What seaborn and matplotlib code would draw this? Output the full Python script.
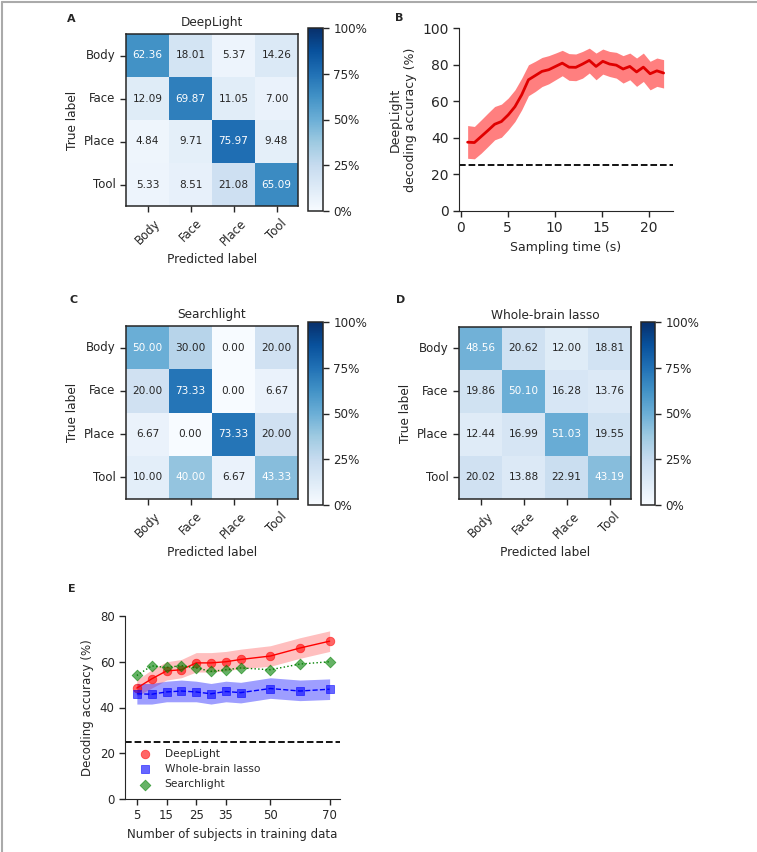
"""
Decoding performance figure: confusion matrices (DeepLight / Searchlight / Whole-brain lasso),
DeepLight accuracy over sampling time, and accuracy vs number of training subjects.
"""
import numpy as np
import pandas as pd
import seaborn as sns
from matplotlib import pyplot as plt
from matplotlib.lines import Line2D
from matplotlib.ticker import PercentFormatter

# ---- data ----
classes = ["Body", "Face", "Place", "Tool"]

deeplight_cm = [[62.36, 18.01, 5.37, 14.26],
                [12.09, 69.87, 11.05, 7.00],
                [4.84, 9.71, 75.97, 9.48],
                [5.33, 8.51, 21.08, 65.09]]
searchlight_cm = [[50.00, 30.00, 0.00, 20.00],
                  [20.00, 73.33, 0.00, 6.67],
                  [6.67, 0.00, 73.33, 20.00],
                  [10.00, 40.00, 6.67, 43.33]]
lasso_cm = [[48.56, 20.62, 12.00, 18.81],
            [19.86, 50.10, 16.28, 13.76],
            [12.44, 16.99, 51.03, 19.55],
            [20.02, 13.88, 22.91, 43.19]]

# panel B: accuracy over sampling time (TR = 0.72 s)
sampling_time = [0.72, 1.44, 2.16, 2.88, 3.60, 4.32, 5.04, 5.76, 6.48, 7.20,
                 7.92, 8.64, 9.36, 10.08, 10.80, 11.52, 12.24, 12.96, 13.68, 14.40,
                 15.12, 15.84, 16.56, 17.28, 18.00, 18.72, 19.44, 20.16, 20.88, 21.60]
time_acc = [37.6, 37.4, 40.7, 44.0, 47.4, 48.9, 52.5, 57.0, 63.5, 71.7,
            74.0, 76.3, 77.2, 79.0, 80.8, 78.6, 78.5, 80.3, 82.3, 79.0,
            81.8, 80.3, 79.7, 77.6, 79.0, 76.0, 78.6, 75.0, 76.6, 75.4]
time_lo = [28.8, 28.5, 31.6, 35.2, 38.9, 40.3, 44.3, 48.9, 55.3, 63.0,
           65.3, 68.0, 69.5, 71.7, 73.9, 71.4, 71.2, 72.6, 75.4, 71.7,
           74.8, 73.5, 72.6, 69.9, 71.7, 68.1, 70.8, 66.2, 68.1, 67.2]
time_hi = [46.7, 46.2, 49.8, 53.5, 57.1, 58.4, 61.7, 66.2, 72.6, 79.9,
           81.8, 83.9, 84.9, 86.3, 87.8, 86.0, 85.8, 87.2, 89.0, 86.3,
           88.5, 87.2, 86.7, 84.9, 86.3, 83.6, 86.3, 81.8, 83.6, 82.7]

# panel E: accuracy vs number of training subjects
n_subjects = [5, 10, 15, 20, 25, 30, 35, 40, 50, 60, 70]
deeplight_acc = [48.5, 52.5, 56.0, 56.5, 59.5, 59.5, 60.0, 61.0, 62.5, 66.0, 69.0]
deeplight_lo = [45.0, 48.5, 52.0, 53.0, 55.5, 55.5, 56.0, 57.0, 58.0, 61.5, 64.5]
deeplight_hi = [52.0, 56.5, 60.0, 61.0, 64.0, 64.0, 64.5, 65.5, 67.0, 70.5, 73.5]
lasso_acc = [46.0, 45.8, 46.8, 47.2, 46.8, 46.0, 47.0, 46.5, 48.3, 47.2, 48.0]
lasso_lo = [41.5, 41.5, 42.5, 42.5, 42.5, 41.5, 42.5, 42.0, 44.0, 43.0, 43.5]
lasso_hi = [50.5, 50.5, 51.5, 52.0, 51.5, 50.5, 51.5, 51.0, 53.0, 52.0, 52.5]
searchlight_acc = [54.0, 58.2, 57.5, 58.3, 57.3, 55.8, 56.5, 57.3, 56.5, 59.0, 60.0]
chance = 25

# ---- style ----
sns.set_style("ticks")
plt.rcParams['font.family'] = ['DejaVu Sans']
plt.rcParams['xtick.labelsize'] = 8.5
plt.rcParams['ytick.labelsize'] = 8.5
plt.rcParams['axes.labelsize'] = 8.7
plt.rcParams['axes.titlesize'] = 8.7

W, H = 757, 852
fig = plt.figure(figsize=(W / 100, H / 100), dpi=100)


def rect(x0, y0, x1, y1):
    # pixel box -> figure fraction
    return [x0 / W, 1 - y1 / H, (x1 - x0) / W, (y1 - y0) / H]


def draw_cm(ax, cax, cm, title):
    df = pd.DataFrame(cm, index=classes, columns=classes)
    sns.heatmap(df, ax=ax, cbar_ax=cax, cmap="Blues", vmin=0, vmax=100,
                annot=True, fmt=".2f", annot_kws={"fontsize": 7.6})
    thresh = df.values.max() / 2
    for txt in ax.texts:
        txt.set_color("white" if float(txt.get_text()) > thresh else ".15")
    for s in ax.spines.values():
        s.set_visible(True)
        s.set_color(".15")
        s.set_linewidth(1.1)
    ax.tick_params(length=4, width=1, color=".15")
    ax.set_xticklabels(classes, rotation=45, ha="center")
    ax.set_yticklabels(classes, rotation=0)
    ax.set_xlabel("Predicted label")
    ax.set_ylabel("True label")
    ax.set_title(title, pad=6)
    cb = ax.collections[0].colorbar
    cb.set_ticks([0, 25, 50, 75, 100])
    cb.ax.yaxis.set_major_formatter(PercentFormatter(decimals=0))
    cb.ax.tick_params(labelsize=8.6, length=4, width=1, color=".15")
    cb.outline.set_visible(True)
    cb.outline.set_linewidth(1.1)
    cb.outline.set_edgecolor(".15")


# A / C / D: confusion matrices
ax_a = fig.add_axes(rect(126, 34, 298, 206))
cax_a = fig.add_axes(rect(308, 28, 323, 211))
draw_cm(ax_a, cax_a, deeplight_cm, "DeepLight")

ax_c = fig.add_axes(rect(126, 326, 298, 499))
cax_c = fig.add_axes(rect(308, 322, 323, 505))
draw_cm(ax_c, cax_c, searchlight_cm, "Searchlight")

ax_d = fig.add_axes(rect(459, 327, 631, 499))
cax_d = fig.add_axes(rect(641, 322, 655, 505))
draw_cm(ax_d, cax_d, lasso_cm, "Whole-brain lasso")

# B: accuracy over time
ax_b = fig.add_axes(rect(459, 28, 673, 211))
ax_b.fill_between(sampling_time, time_lo, time_hi, color="red", alpha=0.5, lw=0)
sns.lineplot(x=sampling_time, y=time_acc, ax=ax_b, color="#e00000", lw=2)
ax_b.axhline(chance, color="k", ls="--", lw=1.3)
ax_b.set_ylim(0, 100)
ax_b.set_xlim(-0.2, 22.6)
ax_b.set_xticks([0, 5, 10, 15, 20])
ax_b.set_yticks([0, 20, 40, 60, 80, 100])
ax_b.tick_params(labelsize=10, length=4, width=1)
ax_b.set_xlabel("Sampling time (s)", fontsize=9)
ax_b.set_ylabel("DeepLight\ndecoding accuracy (%)", fontsize=9)
sns.despine(ax=ax_b)

# E: accuracy vs training subjects
ax_e = fig.add_axes(rect(125, 616, 340, 799))
ax_e.fill_between(n_subjects, deeplight_lo, deeplight_hi, color="red", alpha=0.25, lw=0)
ax_e.fill_between(n_subjects, lasso_lo, lasso_hi, color="blue", alpha=0.38, lw=0)
sns.lineplot(x=n_subjects, y=deeplight_acc, ax=ax_e, color="red", lw=1, ls="-")
sns.lineplot(x=n_subjects, y=lasso_acc, ax=ax_e, color="blue", lw=1, ls="--")
sns.lineplot(x=n_subjects, y=searchlight_acc, ax=ax_e, color="green", lw=1, ls=":")
sns.scatterplot(x=n_subjects, y=deeplight_acc, ax=ax_e, marker="o", color="red",
                alpha=0.6, s=38, edgecolor="red", linewidth=0.6, label="DeepLight", zorder=3)
sns.scatterplot(x=n_subjects, y=lasso_acc, ax=ax_e, marker="s", color="blue",
                alpha=0.6, s=30, edgecolor="blue", linewidth=0.6, label="Whole-brain lasso", zorder=3)
sns.scatterplot(x=n_subjects, y=searchlight_acc, ax=ax_e, marker="D", color="green",
                alpha=0.6, s=30, edgecolor="green", linewidth=0.6, label="Searchlight", zorder=3)
ax_e.axhline(chance, color="k", ls="--", lw=1.3)
ax_e.set_ylim(0, 80)
ax_e.set_xlim(1, 73.5)
ax_e.set_xticks([5, 15, 25, 35, 50, 70])
ax_e.set_yticks([0, 20, 40, 60, 80])
ax_e.tick_params(labelsize=8.5, length=4, width=1)
ax_e.set_xlabel("Number of subjects in training data", fontsize=8.5)
ax_e.set_ylabel("Decoding accuracy (%)", fontsize=8.5)
ax_e.legend(loc="lower left", frameon=False, fontsize=7.7, handletextpad=0.8)
sns.despine(ax=ax_e)

# panel letters
for letter, (px, py) in {"A": (67, 19), "B": (395, 18), "C": (70, 300),
                         "D": (396, 300), "E": (68, 589)}.items():
    fig.text(px / W, 1 - py / H, letter, fontsize=8, fontweight="bold",
             ha="left", va="center")

# thin frame on top and left edges
fig.add_artist(Line2D([1.5 / W, 1.5 / W], [0, 1 - 1.5 / H], color="#aaaaaa", lw=1.5))
fig.add_artist(Line2D([1.5 / W, 1], [1 - 1.5 / H, 1 - 1.5 / H], color="#aaaaaa", lw=1.5))

fig.savefig("out.png", dpi=100)
